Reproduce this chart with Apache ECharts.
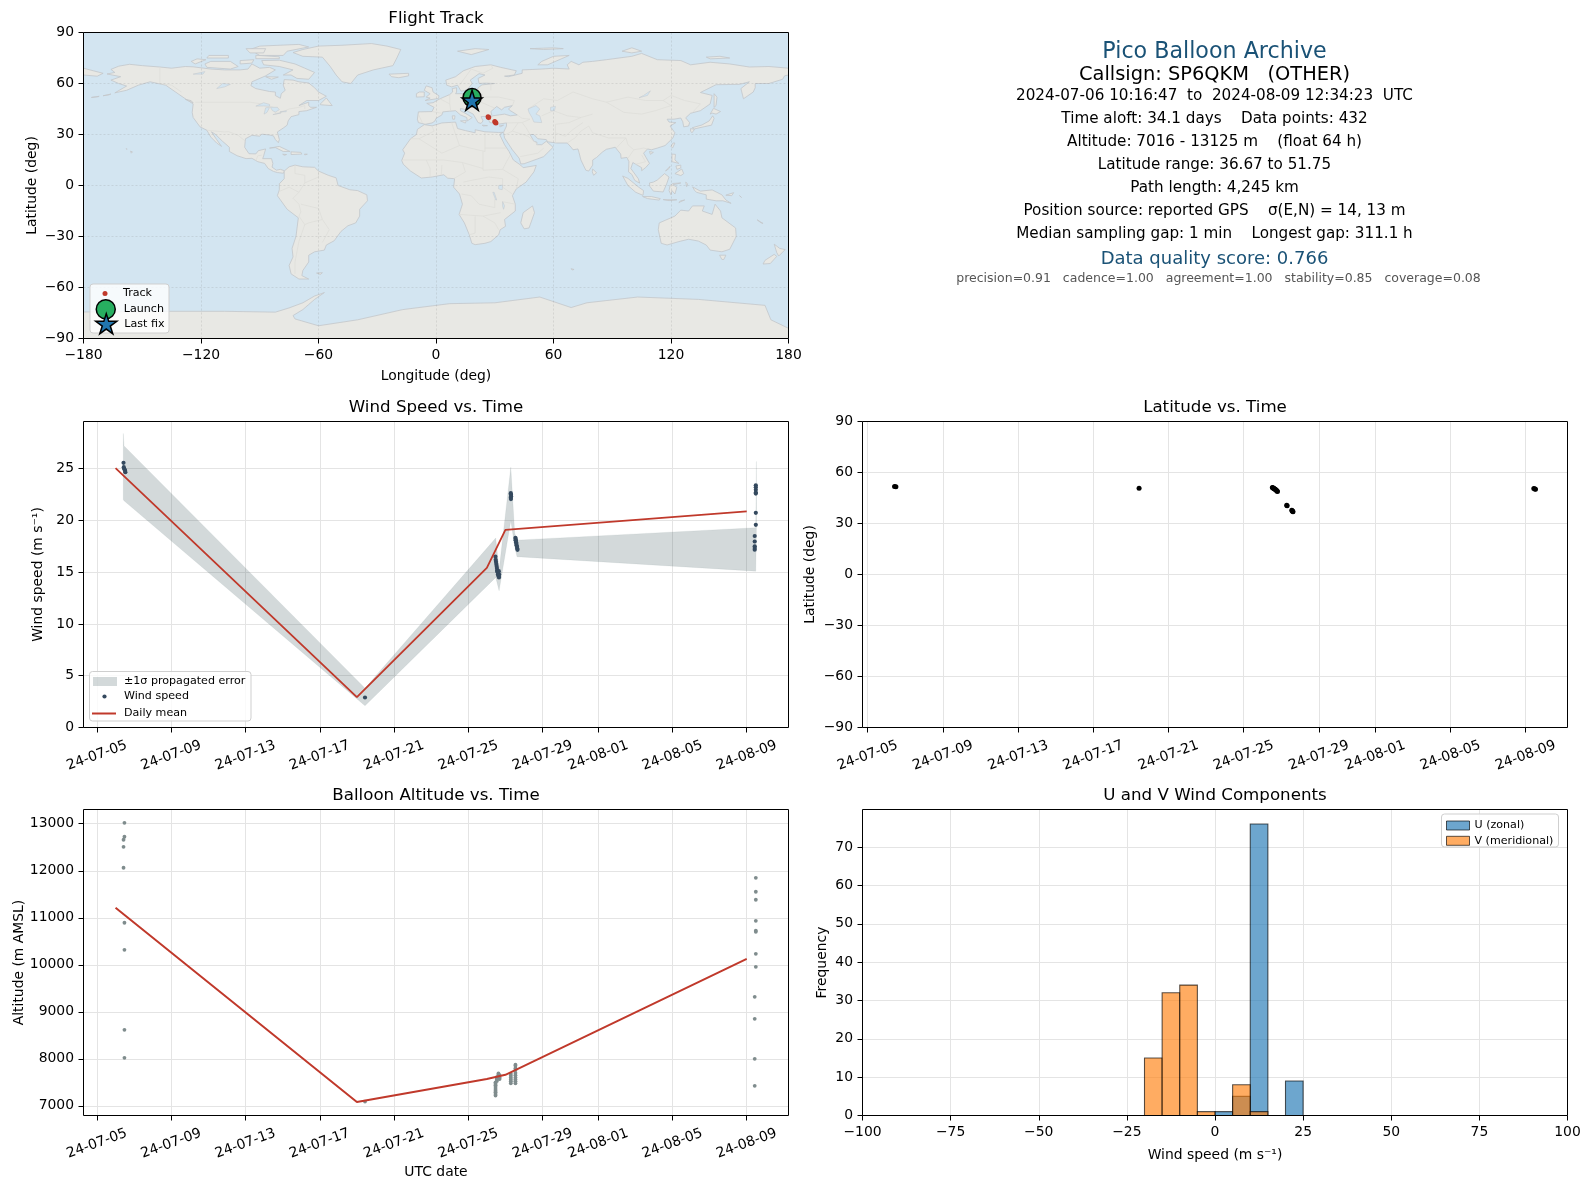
<!DOCTYPE html>
<html><head><meta charset="utf-8">
<style>html,body{margin:0;padding:0;background:#fff}#c{width:1590px;height:1189px}</style>
<script src="https://cdn.jsdelivr.net/npm/echarts@6/dist/echarts.min.js"></script>
</head><body><div id="c"></div>
<script>
// ---------- tick labels ----------
const dateTicks = ['2024-07-05','2024-07-09','2024-07-13','2024-07-17','2024-07-21','2024-07-25','2024-07-29','2024-08-01','2024-08-05','2024-08-09'];
const lonTicks = [-180,-120,-60,0,60,120,180];
const latTicks = [-90,-60,-30,0,30,60,90];
const windTicks = [0,5,10,15,20,25];
const altTicks = [7000,8000,9000,10000,11000,12000,13000];
const histXTicks = [-100,-75,-50,-25,0,25,50,75,100];
const histYTicks = [0,10,20,30,40,50,60,70];

// ---------- daily means ----------
const dailyDays = ['2024-07-06','2024-07-19','2024-07-26','2024-07-27','2024-08-09'];
const dailyWind = [25.05,2.93,15.43,19.1,20.87];
const dailyAlt = [11215,7083,7570,7660,10127];

// ---------- wind speed samples ----------
const windTimes = ['2024-07-06T10:17','2024-07-06T10:40','2024-07-06T11:00','2024-07-06T12:00','2024-07-06T12:20','2024-07-06T12:40',
 '2024-07-19T10:30',
 '2024-07-26T11:10','2024-07-26T11:30','2024-07-26T11:50','2024-07-26T12:15','2024-07-26T12:40','2024-07-26T13:00','2024-07-26T13:20','2024-07-26T13:40','2024-07-26T14:00','2024-07-26T14:30','2024-07-26T15:00','2024-07-26T15:20','2024-07-26T15:40','2024-07-26T15:50','2024-07-26T15:30',
 '2024-07-27T07:00','2024-07-27T07:10','2024-07-27T07:20','2024-07-27T07:00','2024-07-27T07:10',
 '2024-07-27T13:00','2024-07-27T13:10','2024-07-27T13:30','2024-07-27T13:50','2024-07-27T14:10','2024-07-27T14:30','2024-07-27T15:00','2024-07-27T15:20','2024-07-27T15:40','2024-07-27T13:20',
 '2024-08-09T11:45','2024-08-09T11:45','2024-08-09T11:45','2024-08-09T11:45','2024-08-09T11:45','2024-08-09T11:45','2024-08-09T11:45','2024-08-09T10:20','2024-08-09T10:20','2024-08-09T10:20','2024-08-09T10:20','2024-08-09T10:20'];
const windSpeeds = [25.57,25.15,25.0,24.9,24.8,24.66,
 2.9,
 16.5,16.2,16.0,15.8,15.6,15.4,15.2,15.1,15.0,14.8,14.7,14.6,14.5,14.8,15.1,
 22.64,22.5,22.35,22.2,22.07,
 18.33,18.2,18.05,17.9,17.75,17.6,17.45,17.3,17.16,18.1,
 23.4,23.2,22.96,22.7,22.6,20.74,19.58,18.5,17.97,17.5,17.33,17.17];

// ---------- propagated error band ----------
const bandTimes = ['2024-07-06T10:00','2024-07-06T11:00','2024-07-19T10:30','2024-07-26T11:30','2024-07-26T15:50','2024-07-27T07:00','2024-07-27T12:00','2024-07-27T15:00','2024-08-09T11:40','2024-08-09T12:34'];
const bandLow = [22.0,21.9,2.1,14.5,13.2,20.0,17.5,16.5,15.1,19.4];
const bandHigh = [28.4,27.2,3.8,18.3,15.2,25.15,18.8,18.1,19.3,25.7];

// ---------- altitude samples ----------
const altTimes = ['2024-07-06T11:30','2024-07-06T11:30','2024-07-06T10:20','2024-07-06T10:20','2024-07-06T10:20','2024-07-06T11:30','2024-07-06T11:30','2024-07-06T11:30','2024-07-06T11:30',
 '2024-07-19T10:30',
 '2024-07-26T11:15','2024-07-26T11:15','2024-07-26T11:15','2024-07-26T11:15','2024-07-26T11:15','2024-07-26T11:15','2024-07-26T11:15','2024-07-26T11:15','2024-07-26T11:15','2024-07-26T13:00','2024-07-26T13:00','2024-07-26T13:00','2024-07-26T13:00','2024-07-26T15:00','2024-07-26T15:00','2024-07-26T15:00','2024-07-26T16:30','2024-07-26T16:30','2024-07-26T16:30',
 '2024-07-27T07:00','2024-07-27T07:00','2024-07-27T07:00','2024-07-27T07:00','2024-07-27T07:00','2024-07-27T07:00',
 '2024-07-27T13:00','2024-07-27T13:00','2024-07-27T13:00','2024-07-27T13:00','2024-07-27T13:00','2024-07-27T13:00','2024-07-27T13:00','2024-07-27T13:00','2024-07-27T13:00','2024-07-27T13:00',
 '2024-08-09T11:45','2024-08-09T11:45','2024-08-09T11:45','2024-08-09T11:45','2024-08-09T11:45','2024-08-09T11:45','2024-08-09T11:45','2024-08-09T11:45','2024-08-09T10:20','2024-08-09T10:20','2024-08-09T10:20','2024-08-09T10:20'];
const altValues = [13020,12723,12660,12510,12064,10894,10319,8617,8021,
 7090,
 7219,7250,7290,7320,7360,7400,7440,7470,7500,7530,7560,7590,7610,7630,7660,7690,7650,7600,7570,
 7480,7520,7560,7600,7640,7680,
 7480,7520,7560,7600,7650,7700,7760,7800,7850,7875,
 11850,11553,11383,10936,10725,10700,10234,9957,9319,8851,8000,7426];

// ---------- latitude samples ----------
const latTimes = ['2024-07-06T10:17','2024-07-06T12:00','2024-07-19T10:30',
 '2024-07-26T12:40','2024-07-26T13:20','2024-07-26T14:00','2024-07-26T14:40','2024-07-26T15:20','2024-07-26T16:00','2024-07-26T16:40','2024-07-26T17:20','2024-07-26T18:00','2024-07-26T18:40','2024-07-26T19:10',
 '2024-07-27T07:00','2024-07-27T07:30','2024-07-27T13:30','2024-07-27T14:00','2024-07-27T14:30','2024-07-27T15:00',
 '2024-08-09T10:30','2024-08-09T12:00','2024-08-09T12:34'];
const latValues = [51.75,51.6,50.7,
 51.2,51.0,50.8,50.6,50.4,50.2,50.0,49.7,49.4,49.1,48.8,
 40.8,40.4,37.8,37.5,37.2,36.9,
 50.6,50.3,50.1];

// ---------- track on the map ----------
const trackLon = [18.4,18.5,18.6,26.6,26.9,30,30.3,30.6,18.5];
const trackLat = [51.75,51,50.4,40.5,40,37.6,37.2,36.8,50];
const launchPoint = [18.4,51.75];
const lastFixPoint = [18.4,50.1];

// ---------- histogram ----------
const binEdges = [-20,-15,-10,-5,0,5,10,15,20,25];
const uCounts = [0,0,0,0,1,5,76,0,9];
const vCounts = [15,32,34,1,0,8,1,0,0];

// ---------- base map: land outlines as [lon,lat] ----------
const landOutlines = [
 // North and Central America
 [[-168,65.6],[-164,66.5],[-166,68.3],[-162,70.2],[-156.5,71.3],[-150,70.5],[-141,69.7],[-135,69],[-128,70],[-124,69.8],[-115,68.5],[-108,68],[-100,68],[-96,68.5],[-94,71.5],[-90,69],[-85,69.5],[-82,68],[-87,64.5],[-94,61],[-94.5,58.7],[-92,57],[-85,55.3],[-82,55],[-82,52.9],[-79.5,51.3],[-79,54],[-77,56],[-78,59],[-77.5,62.3],[-73,62],[-70,61],[-65,60.3],[-62,57.5],[-60,55],[-56,52.5],[-60,50],[-66,50],[-70,47],[-65,49],[-65,47],[-64,46],[-61,46],[-66,44],[-70,43.5],[-70,41.7],[-74,40.5],[-75.5,38],[-76,35.5],[-78,33.8],[-81,31.5],[-80,27],[-80.5,25.2],[-82,27],[-83,29.2],[-85,29.7],[-89,30.2],[-90,29],[-94,29.5],[-97.3,27.5],[-97.7,22.5],[-95.5,18.7],[-92,18.6],[-90.7,20.5],[-87,21.5],[-88,17.5],[-88.5,15.8],[-84,15.8],[-83.3,13],[-83.7,10.8],[-81.5,9],[-79.5,9.5],[-77.4,8.7],[-77.9,7.2],[-80,7.5],[-81,7.6],[-83,8.3],[-85.7,10],[-87.5,13],[-91,14],[-94,16],[-97,15.8],[-101.5,17.5],[-105.5,20],[-105.5,22.5],[-109,26],[-112.5,30],[-114.7,31.6],[-112,27],[-109.5,23],[-112,25],[-115,28.5],[-117,32.5],[-120.5,34.5],[-124,40],[-124.5,43],[-124,48],[-128,51],[-133,55],[-138,59],[-146,61],[-152,59],[-158,56],[-164,54.5],[-158,58.5],[-162,60],[-166,62],[-161,64]],
 // Greenland
 [[-73,78.2],[-68,76],[-58,75.5],[-54,70],[-51,65],[-48,61],[-43.5,60],[-40,65],[-32,68],[-22,70.5],[-20,75],[-18,80],[-25,82],[-33,83.5],[-48,82.5],[-60,82],[-68,80]],
 // Canadian Arctic
 [[-80,73.7],[-72,71.5],[-67,69],[-62,66.5],[-65,62.5],[-71,63],[-74,65],[-78,65],[-73,68],[-80,70],[-88,71],[-89,73.5]],
 [[-90,76.5],[-78,76.5],[-76,79],[-65,81.5],[-70,83],[-90,82],[-95,80]],
 [[-117,69.5],[-105,68.5],[-101,70],[-105,73],[-115,73],[-118,71.5]],
 [[-123,71.5],[-117.5,74],[-122,74.5],[-125,73]],
 [[-92,74.6],[-80,74.6],[-80,75.7],[-92,76.6]],
 [[-87,64],[-80.5,63.8],[-84,62.5]],
 [[-117,75],[-106,75],[-106,76.5],[-116,76.5]],
 [[-100,71.5],[-94,72],[-93,74],[-100,73.5]],
 [[-95,78],[-88,78],[-87,80.5],[-97,80.5]],
 [[-59,48],[-56,51.5],[-53,47],[-59,47.5]],
 [[-128,50.7],[-124,48.6],[-125,49.9]],
 [[-176,51.8],[-172,52.5],[-172.5,52.2]],[[-170,52.8],[-166,53.8],[-167,53.3]],
 // Caribbean, Pacific
 [[-85,22],[-80,23],[-74.5,20],[-78,20],[-82,22.3]],
 [[-74,19.8],[-69,19.5],[-68.5,18.5],[-74,18.2]],
 [[-78.3,18.4],[-76.3,18.2],[-77.5,17.8]],
 [[-67.2,18.5],[-65.7,18.4],[-67,18]],
 [[-156,20.2],[-155,19.8],[-155.6,19]],
 [[-158.2,21.7],[-157.7,21.4],[-158,21.3]],
 // South America
 [[-77.5,8.5],[-75,11],[-72,12],[-68,11],[-62,10.7],[-60,8.5],[-55,6],[-51,4.5],[-50,0],[-44,-2.5],[-40,-3],[-35.3,-5.5],[-35,-9],[-39,-14],[-39,-18],[-41,-22],[-45,-23.7],[-48.5,-27],[-52,-32.5],[-56,-35],[-57,-38],[-62,-39],[-65,-41],[-65,-45],[-68,-50],[-68.5,-53],[-65,-55],[-70,-55],[-74,-52],[-75,-47],[-73,-42],[-73.5,-37],[-71.5,-30],[-70.3,-19],[-76,-14],[-81,-6],[-80,-2.5],[-80,1],[-77.5,4]],
 [[-61,-51.5],[-58,-51.3],[-59,-52.3]],
 // Africa
 [[-6,35.8],[-2,35.1],[3,36.8],[10,37.3],[11,33.5],[15,32.3],[20,31],[20,32.8],[25,31.6],[32,31.2],[34.2,31.3],[32.5,30],[35,24],[37.3,20],[39.5,15],[43.2,12],[44.5,10.5],[51.2,11.8],[50,8],[46,2],[41,-2],[39,-6],[40.5,-11],[40.5,-15],[35,-20],[35.5,-24],[32.8,-26],[32,-29],[28,-33],[25,-34],[20,-34.8],[18.3,-34],[17,-29],[14.5,-22],[11.8,-17],[13.5,-11],[12,-5],[9,-1],[9.5,4],[6,4.3],[4,6.3],[-2,5],[-7.5,4.4],[-13,8.5],[-16.7,12.5],[-17.5,14.7],[-16,19],[-17,21],[-13,27.5],[-10,30],[-9.5,33]],
 [[49.3,-12],[50.3,-16],[47.5,-25],[45,-25.5],[43.3,-22],[44.5,-16]],
 // Eurasia
 [[-9,37],[-9.5,39],[-9,43.3],[-2,43.5],[-1,46],[-4.7,48.3],[-1.5,48.7],[2,51],[4,52],[7,53.5],[8.5,55],[8.3,57],[10.5,57.5],[10.5,55],[10,54],[14,54],[19,54.5],[21,55.5],[21.5,57.5],[23.5,59.2],[30,60],[25,60.2],[22,60],[21.5,63],[25,65],[22,65.8],[17.5,62],[18.5,60],[16.5,57],[14.5,55.8],[12.8,55.5],[11,59],[8,58],[5.5,59],[5,62],[10,64],[14,67.5],[20,70],[28,71],[33,69.5],[41,67.5],[40,65],[35,64.3],[37,64],[44,66],[44,68],[54,68.5],[60,69],[68,68.5],[67,71],[69,73],[73,71],[75,72.5],[80,73],[87,74],[100,76],[105,77.7],[113,74],[125,73.5],[130,71],[140,72.5],[150,71.5],[160,69.7],[170,70],[180,69],[180,65],[178,64.5],[177,62.5],[170,60],[163,60],[163,57.5],[162,55],[157,51],[155.7,57],[160,61],[155,59.5],[143,59.3],[135,54.7],[141,53],[140,48],[135,44],[130,42.5],[127.5,39.8],[129.5,37],[129,35],[126.5,34.5],[126,37.5],[125,39.7],[121.5,39],[118,39],[119,37.3],[122.5,37],[119.5,35],[122,31],[121,28],[117,23.5],[113,22],[110,21],[108,21.5],[106,19],[109,13],[107,10.5],[105,8.7],[105,10.5],[102,12.5],[100.5,13.5],[99.5,10],[103.3,4],[104,1.4],[101.5,3],[100,6.5],[98.3,8],[98.5,14],[97.5,16.5],[94.5,16],[94.3,18.5],[91.5,22.5],[89,21.8],[87,21.3],[85,19.7],[82,16.5],[80,15],[80,12],[78,8.5],[76.5,9],[74,15],[73,19.5],[72.5,21.5],[70,21],[69,22.5],[67,25],[61.5,25],[57,25.7],[56.3,27],[52,27.5],[50,30],[48,30],[50,26],[51.5,25.5],[51.5,24],[54,24],[56.3,26],[59.8,22.5],[55,17],[52,15.7],[45,12.8],[43.3,12.7],[42.5,16],[39,21],[35,28],[34.8,29.5],[34.5,31.3],[36,35],[36,36.8],[32,36.1],[30.5,36.5],[27.5,37],[26.5,39.5],[29,41],[35,42],[38,41],[41.5,41.5],[38,44],[37,45],[39,47],[35,46],[33.5,44.5],[31,46.5],[28,43.5],[28.5,41.5],[26,40.7],[23,40.5],[24,38],[23,36.5],[21.5,37],[19.5,41],[19,42],[14,45],[12.5,45.3],[12.5,44],[16,41.8],[18.5,40],[16,38],[15.7,40],[12.5,41.5],[10,44],[7,43.7],[3.5,43.3],[3,41.5],[0,39.5],[-0.5,38],[-2,36.8],[-5.5,36]],
 [[-180,69],[-175,67.5],[-170,66],[-173,64.3],[-180,65]],
 // European islands
 [[-5.5,50],[1.3,51.2],[1.5,52.8],[-1.5,55],[-2,57.5],[-5,58.6],[-6,56],[-3,54],[-5,52],[-3,51.4]],
 [[-10,52],[-6,52.2],[-6,55],[-8.5,55],[-10,54]],
 [[-24,65.5],[-14,66],[-14,64.5],[-19,63.4],[-22.7,64]],
 [[11,79],[20,80.5],[27,80],[18,77]],
 [[52,71],[57,71],[68,76.5],[60,76],[54,73]],
 [[12.5,38],[15.5,38.2],[15,36.7]],
 [[8.3,41],[9.7,41],[9.5,39],[8.5,39]],
 [[23.6,35.5],[26.3,35.2],[24,35]],
 [[32.3,35],[34.5,35.5],[33,34.6]],
 [[138,75.5],[145,76],[150,75],[140,74.5]],
 [[95,79],[100,81],[105,79],[100,78]],
 [[48,80.5],[60,81],[65,80.5],[55,80]],
 // Asia islands
 [[80,9.7],[82,7.5],[80.5,6],[79.8,8]],
 [[130.9,34],[135.8,35.6],[139.5,38],[141.3,41],[142,39.5],[140.7,35.5],[137,34.6],[132,33.3]],
 [[130,33.5],[132,33],[130.7,31],[130,32]],
 [[140,42],[141.7,45.4],[145.3,43.5],[143,42],[141,42.6]],
 [[142,54],[143.5,52],[143,47],[142,46],[142,50]],
 [[121,25],[122,25],[120.8,22],[120,23]],
 [[109,20],[111,19.5],[109.5,18.3]],
 [[120.5,18.5],[122.3,18.3],[122,15],[124,13],[120.5,14]],
 [[122,7],[125.5,9.7],[126.5,7],[125,5.8]],
 [[122.5,11.5],[125,12],[125,10.3],[123,9.5]],
 [[117.2,8.5],[119.5,11.3],[119,10]],
 [[109,1.5],[111,2],[113,3.2],[116.7,7],[119,5],[117.8,1],[116,-3.8],[111,-3.3],[109.2,-0.5]],
 [[95.3,5.6],[98,4.2],[103.5,-1],[106,-3],[105.7,-5.8],[102,-4],[98,0]],
 [[105.5,-6.5],[110,-6.5],[114.5,-7.7],[114,-8.6],[108,-7.7]],
 [[119.5,0],[121,1.2],[125,1.5],[121,0.4],[123,-1],[122,-5],[120.5,-3],[120,-5.5],[119,-3]],
 [[127.5,2],[128.5,1],[128,-0.7]],
 [[131,-0.8],[135,-3.3],[141,-2.6],[146,-5.5],[148,-8.5],[150.7,-10.5],[146.5,-9],[143,-9],[138,-8],[138,-5.5],[133,-4],[132,-2.8]],
 [[124,-10],[127,-8.5],[125,-9]],
 [[116,-8.3],[120,-8.4],[123,-8.4],[119,-8.9]],
 [[148,-5.7],[152,-4.2],[151,-6]],
 [[155,-6],[156,-7],[155.5,-6.5]],
 // Oceania
 [[114,-22],[113.5,-26],[115,-34],[118,-35],[124,-33],[129,-31.6],[134,-32.7],[138,-35],[140,-38],[146,-39],[150,-37.5],[153.3,-30],[153,-25],[146,-19],[145.3,-15],[142.5,-11],[141,-17],[136,-15],[137,-12],[131,-12],[129,-15],[125,-14.5],[122,-18],[117,-20.5]],
 [[144.8,-41],[148,-41],[147,-43.5],[146,-43.5]],
 [[172.7,-34.5],[175.5,-37],[178.3,-37.7],[175,-41.5],[174,-39.5]],
 [[172.7,-40.5],[174,-41.7],[170.7,-45.9],[167,-46.2],[168,-44]],
 [[164,-20.2],[167,-22.3],[166,-22]],
 [[69,-48.9],[70.5,-49.4],[69.5,-49.7]],
 // Antarctica
 [[-180,-74.4],[-136,-74],[-108,-74],[-82,-74.5],[-75,-72],[-68,-69],[-62,-65],[-57,-63],[-62,-67],[-65,-70],[-68,-73],[-73,-76.5],[-72,-78.5],[-60,-82.5],[-40,-79],[-17,-73],[7,-69.5],[30,-69],[53,-65.6],[69,-71.8],[77,-69],[103,-65.6],[134,-67],[168,-70.5],[171,-79],[180,-84],[180,-90],[-180,-90]]
];
// inland water painted over the land
const waterOutlines = [
 [[47,45],[51,47],[53,45],[51,42],[53,41],[54,37],[50,37.3],[49,40],[47.5,43]],
 [[58.5,46],[61,46.5],[60.5,44],[58.5,44]],
 [[-92,46.7],[-88,48.7],[-85,47.7],[-85,46.6],[-88,46.8]],
 [[-87.8,42],[-87,45.7],[-85,45.9],[-86.3,43]],
 [[-84.5,46],[-81,46],[-80,44.6],[-82,43.2],[-83.5,44]],
 [[-83.3,41.7],[-79,42.8],[-80,42.4]],
 [[-79.7,43.3],[-76.3,44],[-76.5,43.4]],
 [[-112,57],[-109,60],[-105,59.5],[-108,58]],
 [[-124,65.5],[-118,67],[-119,65.5]],
 [[103.7,51.6],[106,53],[109.5,55.7],[108,53]],
 [[32,0],[34,0.3],[33.8,-2.5],[32,-2]],
 [[29,-4],[29.7,-4],[31,-8.5],[30.5,-8.5]],
 [[34,-9.5],[35,-12],[34.5,-14],[34,-12]]
];
// national borders, very faint
const borderLines = [
 [[-123,49],[-95,49],[-89,48],[-83,46],[-82,42.5],[-79,43],[-75,45],[-70,46],[-67,47],[-67,45]],
 [[-141,69.7],[-141,60],[-135,59],[-130,55]],
 [[-117,32.5],[-108,31.5],[-106,31.7],[-101,29.5],[-97.3,26]],
 [[-92,14.5],[-91,17.5],[-89,17.8]],
 [[-72,12],[-72,7],[-67,6],[-67,1.5],[-70,-4],[-73,-7.5],[-70,-11],[-69,-15.5],[-70,-18]],
 [[-67,1.5],[-60,5],[-60,8]],[[-80,-3.5],[-75,-1],[-70,-4]],
 [[-70,-18],[-67,-23],[-70,-33],[-72,-45],[-72,-52]],
 [[-58,-20],[-65,-22],[-67,-23]],[[-58,-20],[-54.5,-26],[-58,-33.5]],[[-69,-11],[-60,-13.5],[-58,-20]],
 [[-13,27.5],[-8.7,27.5],[-1,32],[-2,35]],[[-8.7,27.5],[3,19],[12,23.5],[10,30],[8,37]],[[12,23.5],[25,20],[25,31.6]],
 [[25,22],[36,22]],[[24,20],[24,9],[34,9.5],[36,14],[38,18]],[[34,9.5],[42,4],[41,-2]],[[34,4],[34,-1],[39,-5]],
 [[-17,15],[-5,15],[4,15],[13.5,13.5],[15,8],[9,4]],[[-5,15],[-3,10],[-3,5]],[[3,12],[2.7,6.3]],[[13.5,13.5],[24,10]],
 [[14,2],[18,3],[27,5],[34,4]],[[13,-5],[18,-6],[22,-11],[30,-13],[30,-8]],[[11.8,-17],[24,-18],[33,-16]],
 [[20,-18],[20,-28],[17,-29]],[[24,-18],[30,-22],[32,-26]],[[34,-9.5],[40.5,-11]],
 [[2,51],[7,48],[7.5,44]],[[7,53.5],[7,48]],[[14,54],[15,51],[19,49.5],[23,49],[24,52],[23.5,54]],[[-2,43.5],[3,42.5]],[[-9,42],[-7,37]],
 [[23,49],[30,45.5]],[[24,52],[32,52],[40,50],[39,47]],[[28,56],[28,60]],[[24,66],[29,69],[28,71]],[[12,59],[18,68.5],[24,66]],
 [[47,45],[55,51],[62,50],[70,55],[80,51],[87,49],[98,52],[107,50],[116,50],[120,53],[127,50],[135,48],[131,43]],
 [[87,49],[96,43],[105,42],[112,44],[120,47],[116,50]],[[80,42],[74,40],[68,37],[61,36],[61,31],[66,29],[70,33],[75,37]],
 [[54,41],[60,44],[67,41],[74,40]],[[44,37],[48,39],[44,39.5],[41.5,41.5]],[[36,36.8],[44,37],[46,34],[48,30]],[[34.8,29.5],[39,32],[42,37]],[[39,32],[47,29],[52,24]],[[43,17],[52,19],[55,22]],
 [[61,25],[61,31]],[[67,25],[71,28],[74,32],[78,35],[80,31],[88,28],[97,28],[92,22]],[[97,28],[98,24],[101,21],[106,22],[108,21.5]],[[98,16],[101,21]],[[102,12.5],[107,14],[105,18]]
];

const STAR = 'path://M50,0 L61.2,34.5 L97.6,34.5 L68.2,55.9 L79.4,90.5 L50,69.1 L20.6,90.5 L31.8,55.9 L2.4,34.5 L38.8,34.5 Z';
const F = 'DejaVu Sans';
const C = {ocean:'#d3e5f1',land:'#e8e8e4',coast:'#c3c7ca',border:'#dcdcd8',band:'rgba(70,95,100,0.24)',wind:'#34495e',alt:'#7f8c8d',red:'#c0392b',
  green:'#27ae60',star:'#2176ae',head:'#1a5276',blue:'rgba(31,119,180,0.65)',orange:'rgba(255,127,14,0.65)',histEdge:'rgba(0,0,0,0.65)'};

const t = s => Date.parse((s.length===10 ? s+'T00:00' : s)+':00Z');
const zip = (a,b) => a.map((v,i)=>[v,b[i]]);
const dateFmt = v => { const d=new Date(v), p=n=>String(n).padStart(2,'0'); return String(d.getUTCFullYear()).slice(2)+'-'+p(d.getUTCMonth()+1)+'-'+p(d.getUTCDate()); };
const numFmt = v => String(v).replace('-','\u2212');

// plot boxes
const P = [
 {l:83.5,t:32.5,w:705,h:306},{l:83.5,t:421.5,w:705,h:306},{l:862.5,t:421.5,w:705,h:306},{l:83.5,t:809.5,w:705,h:306},{l:862.5,t:809.5,w:705,h:306}
];
const wideRange = {min:t('2024-07-04T06:34'),max:t('2024-08-11T06:00')};
const latRange = {min:t('2024-07-04T17:22'),max:t('2024-08-11T05:30')};

function axisBase(ticks, extra){
  return Object.assign({
    type:'value',
    axisLine:{show:false,onZero:false},
    axisTick:{show:true,length:5,inside:false,customValues:ticks,lineStyle:{color:'#000',width:1}},
    axisLabel:{show:true,customValues:ticks,color:'#000',fontFamily:F,fontSize:13.9,margin:9.5,formatter:numFmt,hideOverlap:false},
    splitLine:{show:true,lineStyle:{color:'#e4e4e4',width:1}},
    nameLocation:'middle',nameTextStyle:{color:'#000',fontFamily:F,fontSize:13.9}
  },extra);
}
function dateAxis(i,range,name){
  const a = axisBase(dateTicks.map(t),{gridIndex:i,min:range.min,max:range.max,name:name||'',nameGap:50});
  a.axisLabel.formatter = dateFmt;
  a.axisLabel.rotate = 20;
  a.axisLabel.align = 'center';
  a.axisLabel.verticalAlign = 'middle';
  a.axisLabel.margin = 28;
  return a;
}
function yAxisOf(ticks,extra){
  const a = axisBase(ticks,extra);
  a.axisLabel.padding = [2,0,0,0];
  return a;
}
const mapGrid = {show:true,lineStyle:{color:'rgba(130,130,130,0.28)',width:0.7,type:[2,2]}};

const xAxes = [
 axisBase(lonTicks,{gridIndex:0,min:-180,max:180,name:'Longitude (deg)',nameGap:31,z:3,splitLine:mapGrid}),
 dateAxis(1,wideRange),
 dateAxis(2,latRange),
 dateAxis(3,wideRange,'UTC date'),
 axisBase(histXTicks,{gridIndex:4,min:-100,max:100,name:'Wind speed (m s\u207b\u00b9)',nameGap:33})
];
const yAxes = [
 yAxisOf(latTicks,{gridIndex:0,min:-90,max:90,name:'Latitude (deg)',nameGap:44,z:3,splitLine:mapGrid}),
 yAxisOf(windTicks,{gridIndex:1,min:0,max:29.56,name:'Wind speed (m s\u207b\u00b9)',nameGap:38}),
 yAxisOf(latTicks,{gridIndex:2,min:-90,max:90,name:'Latitude (deg)',nameGap:45}),
 yAxisOf(altTicks,{gridIndex:3,min:6794,max:13303,name:'Altitude (m AMSL)',nameGap:57}),
 yAxisOf(histYTicks,{gridIndex:4,min:0,max:79.8,name:'Frequency',nameGap:33})
];

function polySeries(polys,fill,stroke,lw,z){
  return {type:'custom',xAxisIndex:0,yAxisIndex:0,silent:true,z:z,clip:true,
    data:polys.map((p,i)=>[p[0][0],p[0][1],i]),
    renderItem:(params,api)=>({type:'polygon',shape:{points:polys[api.value(2)].map(q=>api.coord(q))},style:{fill:fill,stroke:stroke,lineWidth:lw}})};
}
function lineSeries(lines,stroke,lw,z){
  return {type:'custom',xAxisIndex:0,yAxisIndex:0,silent:true,z:z,clip:true,
    data:lines.map((p,i)=>[p[0][0],p[0][1],i]),
    renderItem:(params,api)=>({type:'polyline',shape:{points:lines[api.value(2)].map(q=>api.coord(q))},style:{fill:null,stroke:stroke,lineWidth:lw}})};
}
function histSeries(name,counts,fill,z){
  return {type:'custom',name:name,xAxisIndex:4,yAxisIndex:4,z:z,silent:true,clip:true,
    itemStyle:{color:fill,borderColor:C.histEdge,borderWidth:1},
    data:counts.map((c,i)=>[binEdges[i],c,binEdges[i+1]]).filter(d=>d[1]>0),
    renderItem:(params,api)=>{
      const a=api.coord([api.value(0),api.value(1)]), b=api.coord([api.value(2),0]);
      return {type:'rect',shape:{x:a[0],y:a[1],width:b[0]-a[0],height:b[1]-a[1]},style:{fill:fill,stroke:C.histEdge,lineWidth:1.1}};
    }};
}
const bandPoly = bandTimes.map((s,i)=>[t(s),bandHigh[i]]).concat(bandTimes.map((s,i)=>[t(s),bandLow[i]]).reverse());

const series = [
 polySeries(landOutlines,C.land,C.coast,0.8,2),
 polySeries(waterOutlines,C.ocean,C.coast,0.5,2.2),
 lineSeries(borderLines,C.border,0.7,2.1),
 {type:'scatter',name:'Track',xAxisIndex:0,yAxisIndex:0,z:6,silent:true,symbolSize:5,itemStyle:{color:C.red,opacity:1},data:zip(trackLon,trackLat)},
 {type:'scatter',name:'Launch',xAxisIndex:0,yAxisIndex:0,z:7,silent:true,symbolSize:18,itemStyle:{color:C.green,borderColor:'#000',borderWidth:1.5,opacity:1},data:[launchPoint]},
 {type:'scatter',name:'Last fix',xAxisIndex:0,yAxisIndex:0,z:8,silent:true,symbol:STAR,symbolSize:20,itemStyle:{color:C.star,borderColor:'#000',borderWidth:1.5,opacity:1},data:[lastFixPoint]},
 {type:'custom',name:'\u00b11\u03c3 propagated error',xAxisIndex:1,yAxisIndex:1,z:2,silent:true,clip:true,itemStyle:{color:C.band},
  data:bandPoly,renderItem:(params,api)=>params.dataIndex===0?{type:'polygon',shape:{points:bandPoly.map(q=>api.coord(q))},style:{fill:C.band,stroke:'rgba(70,95,100,0.12)',lineWidth:0.6}}:null},
 {type:'scatter',name:'Wind speed',xAxisIndex:1,yAxisIndex:1,z:4,silent:true,symbolSize:4.2,itemStyle:{color:C.wind,opacity:1},data:zip(windTimes.map(t),windSpeeds)},
 {type:'line',name:'Daily mean',xAxisIndex:1,yAxisIndex:1,z:5,silent:true,showSymbol:false,lineStyle:{color:C.red,width:1.8},itemStyle:{color:C.red},data:zip(dailyDays.map(t),dailyWind)},
 {type:'scatter',name:'Latitude',xAxisIndex:2,yAxisIndex:2,z:4,silent:true,symbolSize:5,itemStyle:{color:'#000',opacity:1},data:zip(latTimes.map(t),latValues)},
 {type:'scatter',name:'Altitude',xAxisIndex:3,yAxisIndex:3,z:4,silent:true,symbolSize:3.8,itemStyle:{color:C.alt,opacity:1},data:zip(altTimes.map(t),altValues)},
 {type:'line',name:'Altitude mean',xAxisIndex:3,yAxisIndex:3,z:5,silent:true,showSymbol:false,lineStyle:{color:C.red,width:2},data:zip(dailyDays.map(t),dailyAlt)},
 histSeries('U (zonal)',uCounts,C.blue,3),
 histSeries('V (meridional)',vCounts,C.orange,4)
];

function oneLegend(name,left,top,icon,w,h,style,padLeft){
  return {show:true,left:left,top:top,orient:'vertical',padding:0,selectedMode:false,z:20,itemWidth:w,itemHeight:h,symbolKeepAspect:true,
    textStyle:{fontFamily:F,fontSize:11.1,color:'#000',padding:[0,0,0,padLeft||0]},
    data:[{name:name,icon:icon,itemStyle:style||undefined}]};
}
const legends = [
 oneLegend('Track',102.5,288,'circle',26,5,{color:C.red,opacity:1}),
 oneLegend('Launch',95.5,299,'circle',26,19,{color:C.green,borderColor:'#000',borderWidth:1.5,opacity:1}),
 oneLegend('Last fix',95,313,STAR,26,20,{color:C.star,borderColor:'#000',borderWidth:1.5,opacity:1}),
 oneLegend('\u00b11\u03c3 propagated error',93,676,'rect',24,9,{color:C.band},2),
 oneLegend('Wind speed',102.4,691,'circle',29,4.2,{color:C.wind,opacity:1}),
 oneLegend('Daily mean',92,708,'rect',24,2,{color:C.red},3),
 {show:true,left:1446,top:820,orient:'vertical',padding:0,itemGap:4.3,selectedMode:false,z:20,itemWidth:23,itemHeight:9,
  textStyle:{fontFamily:F,fontSize:11.1,color:'#000'},
  data:[{name:'U (zonal)',icon:'rect',itemStyle:{color:C.blue,borderColor:C.histEdge,borderWidth:1}},
        {name:'V (meridional)',icon:'rect',itemStyle:{color:C.orange,borderColor:C.histEdge,borderWidth:1}}]}
];

const titleNames = ['Flight Track','Wind Speed vs. Time','Latitude vs. Time','Balloon Altitude vs. Time','U and V Wind Components'];
const titles = titleNames.map((s,i)=>({text:s,left:P[i].l+P[i].w/2,top:P[i].t-22.5,textAlign:'center',padding:0,
  textStyle:{fontFamily:F,fontSize:16.67,fontWeight:'normal',color:'#000'}}));

const headerLines = [
 ['Pico Balloon Archive',52,22.2,C.head,0],
 ['Callsign: SP6QKM   (OTHER)',75,19.4,'#000',0],
 ['2024-07-06 10:16:47  to  2024-08-09 12:34:23  UTC',96.5,15.2,'#000',0],
 ['Time aloft: 34.1 days    Data points: 432',119.5,15.2,'#000',0],
 ['Altitude: 7016 - 13125 m    (float 64 h)',142,15.2,'#000',0],
 ['Latitude range: 36.67 to 51.75',165,15.2,'#000',0],
 ['Path length: 4,245 km',188.5,15.2,'#000',0],
 ['Position source: reported GPS    \u03c3(E,N) = 14, 13 m',211.5,15.2,'#000',0],
 ['Median sampling gap: 1 min    Longest gap: 311.1 h',234.5,15.2,'#000',0],
 ['Data quality score: 0.766',259,18,C.head,0],
 ['precision=0.91   cadence=1.00   agreement=1.00   stability=0.85   coverage=0.08',279,12.5,'#555',4]
];
const graphics = headerLines.map(h=>({type:'text',z:30,silent:true,style:{x:1214.5+h[4],y:h[1],text:h[0],align:'center',verticalAlign:'middle',fontFamily:F,fontSize:h[2],fill:h[3]}}));
// legend boxes (under the legend text, over the marks)
[[90,284,79,49],[89.5,671.5,161.5,49.5],[1441.5,814,117,33]].forEach(b=>{
  graphics.push({type:'rect',z:15,silent:true,shape:{x:b[0],y:b[1],width:b[2],height:b[3],r:3},style:{fill:'rgba(255,255,255,0.8)',stroke:'#cfcfcf',lineWidth:1}});
});
// axes frames
P.forEach(p=>graphics.push({type:'rect',z:18,silent:true,shape:{x:p.l,y:p.t,width:p.w,height:p.h},style:{fill:null,stroke:'#000',lineWidth:1}}));

const chart = echarts.init(document.getElementById('c'),null,{renderer:'canvas',width:1590,height:1189});
chart.setOption({
  animation:false,useUTC:true,backgroundColor:'#fff',
  tooltip:{show:false},
  title:titles,
  legend:legends,
  grid:P.map((p,i)=>({left:p.l,top:p.t,width:p.w,height:p.h,show:i===0,backgroundColor:i===0?C.ocean:'transparent',borderWidth:0,containLabel:false})),
  xAxis:xAxes,yAxis:yAxes,series:series,graphic:graphics
});
</script></body></html>
